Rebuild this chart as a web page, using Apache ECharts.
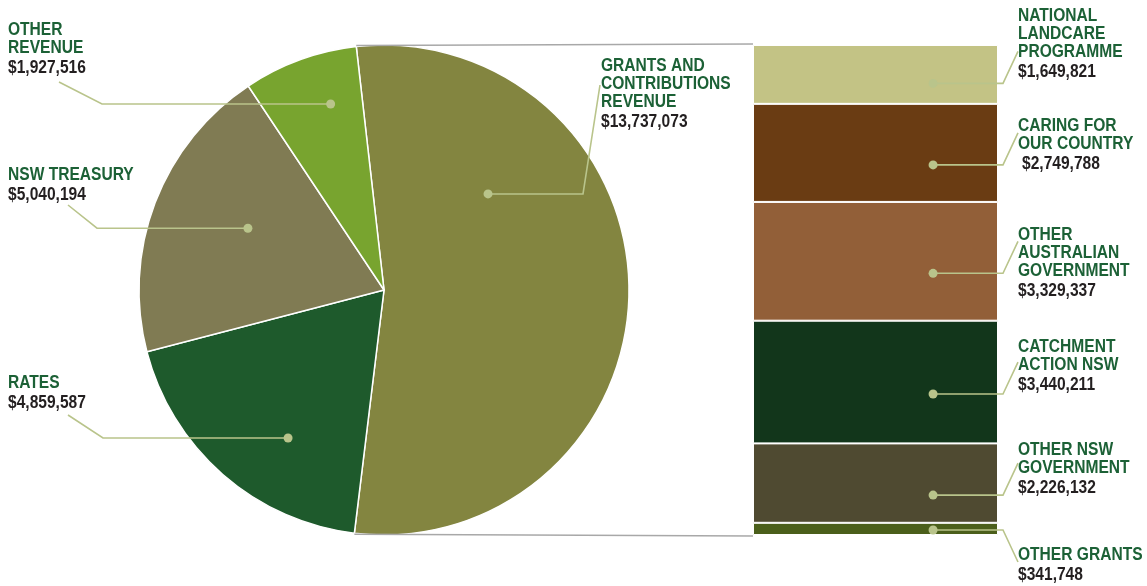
<!DOCTYPE html>
<html><head><meta charset="utf-8">
<script src="https://cdn.jsdelivr.net/npm/echarts@6/dist/echarts.min.js"></script>
<style>html,body{margin:0;padding:0;background:#fff}#c{width:1147px;height:586px}</style>
</head><body><div id="c"></div>
<script>
// ---- data ----
const pieNames = ['GRANTS AND\nCONTRIBUTIONS\nREVENUE', 'RATES', 'NSW TREASURY', 'OTHER\nREVENUE'];
const pieValues = [13737073, 4859587, 5040194, 1927516];
const barNames = ['NATIONAL\nLANDCARE\nPROGRAMME', 'CARING FOR\nOUR COUNTRY', 'OTHER\nAUSTRALIAN\nGOVERNMENT', 'CATCHMENT\nACTION NSW', 'OTHER NSW\nGOVERNMENT', 'OTHER GRANTS'];
const barValues = [1649821, 2749788, 3329337, 3440211, 2226132, 341748];

// ---- style ----
const pieColors = ['#838540', '#1e5a2c', '#807b53', '#78a42f'];
const barColors = ['#c3c385', '#6a3c13', '#925f38', '#12361b', '#4f4a31', '#4b5f1b'];
const GREEN = '#1c6136', DARK = '#231f20', LEAD = '#b9c48b';
const FONT = "bold 18px 'Liberation Sans', Arial, sans-serif";
const SQUEEZE = 0.865;
// dot placement inside pie slices: [fraction along slice angle, fraction of radius]
const pieDot = [[0.278, 0.578], [0.38, 0.72], [0.55, 0.61], [0.65, 0.79]];
// label layout: text x, first line centre y, leader elbow x, leader end [x,y] (pie)
const pieLab = [
  {x: 601, y: 66, ex: 583, end: [600, 85]},
  {x: 8, y: 383, ex: 103, end: [68, 415]},
  {x: 8, y: 175, ex: 97, end: [68, 205]},
  {x: 8, y: 30, ex: 102, end: [59, 82]}
];
const barLab = [
  {y: 16, dy: -32, vx: 0, off: 9}, {y: 126, dy: -32, vx: 4, off: 12}, {y: 235, dy: -32, vx: 0, off: 12},
  {y: 347, dy: -32, vx: 0, off: 12}, {y: 450, dy: -32, vx: 0, off: 12}, {y: 555, dy: 32, vx: 0, off: 12}
];

const fmt = v => '$' + v.toLocaleString('en-US');
const barTotal = barValues.reduce((a, b) => a + b, 0);

const chart = echarts.init(document.getElementById('c'), null, {renderer: 'canvas'});
const series = [{
  type: 'pie', center: [384, 290], radius: 245, startAngle: 96.5, clockwise: true,
  animation: false, label: {show: false}, labelLine: {show: false}, silent: true,
  itemStyle: {borderColor: '#fff', borderWidth: 1.5},
  data: pieValues.map((v, i) => ({value: v, name: pieNames[i], itemStyle: {color: pieColors[i]}}))
}];
for (let i = barValues.length - 1; i >= 0; i--) {
  series.push({
    type: 'bar', stack: 'g', barWidth: '100%', animation: false, silent: true,
    itemStyle: {color: barColors[i], borderColor: '#fff', borderWidth: 1},
    data: [barValues[i]]
  });
}
chart.setOption({
  animation: false,
  grid: {left: 753, right: 149, top: 45, bottom: 51},
  xAxis: {type: 'category', data: ['g'], show: false},
  yAxis: {type: 'value', min: 0, max: barTotal, show: false},
  series: series
});

const g = [];
function txt(x, y, s, color) {
  g.push({type: 'text', z: 100, x: x, y: y, scaleX: SQUEEZE,
    style: {text: s, x: 0, y: 0, font: FONT, fill: color, lineHeight: 18, verticalAlign: 'top'}});
}
function txtBlock(x, y1, name, value, vx) {
  const n = name.split('\n').length;
  txt(x, y1 - 9, name, GREEN);
  txt(x + (vx || 0), y1 - 9 + 18 * n + 2.5, fmt(value), DARK);
}
function leader(pts) {
  g.push({type: 'polyline', z: 100, shape: {points: pts}, style: {stroke: LEAD, lineWidth: 1.6, fill: null}});
  g.push({type: 'circle', z: 101, shape: {cx: pts[0][0], cy: pts[0][1], r: 4.5}, style: {fill: LEAD}});
}

// pie annotations
const pdata = chart.getModel().getSeriesByIndex(0).getData();
let grantsLayout = null;
pieValues.forEach((v, i) => {
  const L = pdata.getItemLayout(i);
  if (i === 0) grantsLayout = L;
  const a = L.startAngle + (L.endAngle - L.startAngle) * pieDot[i][0];
  const r = L.r * pieDot[i][1];
  const p = [L.cx + r * Math.cos(a), L.cy + r * Math.sin(a)];
  const lab = pieLab[i];
  leader([p, [lab.ex, p[1]], lab.end]);
  txtBlock(lab.x, lab.y, pieNames[i], v, 0);
});

// bar annotations
const band = chart.getModel().getComponent('xAxis').axis.getBandWidth();
const xc = chart.convertToPixel({gridIndex: 0}, [0, 0])[0];
const barLeft = xc - band / 2;
let cum = barTotal;
barValues.forEach((v, i) => {
  const yTop = chart.convertToPixel({gridIndex: 0}, [0, cum])[1];
  const yBot = chart.convertToPixel({gridIndex: 0}, [0, cum - v])[1];
  cum -= v;
  const lab = barLab[i];
  const dy = Math.min((yTop + yBot) / 2 + lab.off, yBot - 5);
  const dx = barLeft + band * 0.735;
  const ex = barLeft + band + 5;
  leader([[dx, dy], [ex, dy], [ex + 15, dy + lab.dy]]);
  txtBlock(ex + 15, lab.y, barNames[i], v, lab.vx);
});

// connector lines from pie to bar
if (grantsLayout) {
  const L = grantsLayout;
  const topY = chart.convertToPixel({gridIndex: 0}, [0, barTotal])[1];
  const botY = chart.convertToPixel({gridIndex: 0}, [0, 0])[1];
  const p1 = [L.cx + L.r * Math.cos(L.startAngle), L.cy + L.r * Math.sin(L.startAngle)];
  const p2 = [L.cx + L.r * Math.cos(L.endAngle), L.cy + L.r * Math.sin(L.endAngle)];
  g.push({type: 'line', z: 50, shape: {x1: p1[0], y1: p1[1] - 1, x2: barLeft, y2: topY - 1}, style: {stroke: '#a8a8a8', lineWidth: 1.5}});
  g.push({type: 'line', z: 50, shape: {x1: p2[0], y1: p2[1] + 1, x2: barLeft, y2: botY + 1}, style: {stroke: '#a8a8a8', lineWidth: 1.5}});
}
chart.setOption({graphic: {elements: g}});
</script>
</body></html>
